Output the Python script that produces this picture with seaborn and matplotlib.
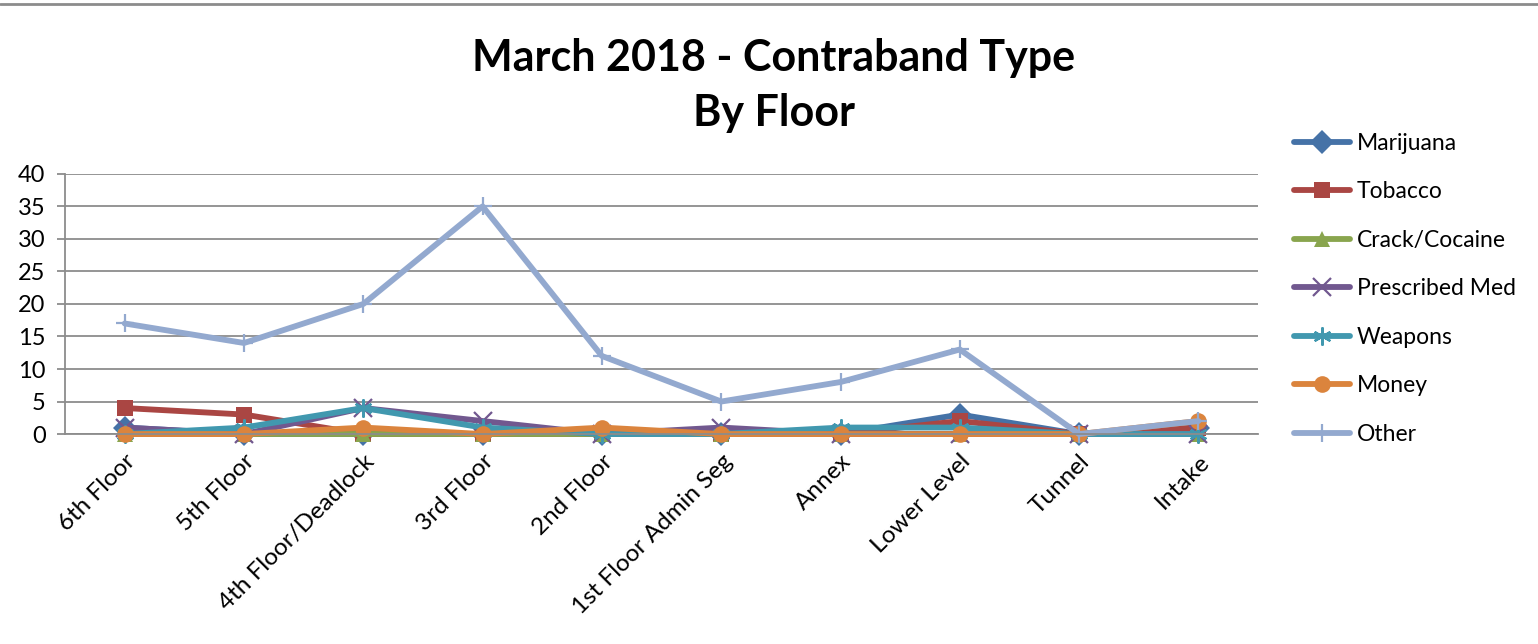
import matplotlib
matplotlib.use("Agg")
import matplotlib.pyplot as plt
import seaborn as sns
import pandas as pd

floors = ["6th Floor", "5th Floor", "4th Floor/Deadlock", "3rd Floor", "2nd Floor",
          "1st Floor Admin Seg", "Annex", "Lower Level", "Tunnel", "Intake"]

marijuana = [1, 0, 0, 0, 0, 0, 0, 3, 0, 1]
tobacco = [4, 3, 0, 0, 0, 0, 0, 2, 0, 1]
crack_cocaine = [0, 0, 0, 0, 0, 0, 0, 0, 0, 0]
prescribed_med = [1, 0, 4, 2, 0, 1, 0, 0, 0, 0]
weapons = [0, 1, 4, 1, 0, 0, 1, 1, 0, 0]
money = [0, 0, 1, 0, 1, 0, 0, 0, 0, 2]
other = [17, 14, 20, 35, 12, 5, 8, 13, 0, 2]

series = [
    ("Marijuana", marijuana, "#4572A7", "D"),
    ("Tobacco", tobacco, "#AA4643", "s"),
    ("Crack/Cocaine", crack_cocaine, "#89A54E", "^"),
    ("Prescribed Med", prescribed_med, "#71588F", "x"),
    ("Weapons", weapons, "#4198AF", (6, 2, 0)),
    ("Money", money, "#DB843D", "o"),
    ("Other", other, "#93A9CF", "+"),
]

sns.set_theme(style="white")
plt.rcParams["font.family"] = ["Lato", "DejaVu Sans"]
plt.rcParams["text.color"] = "black"
plt.rcParams["xtick.color"] = "black"
plt.rcParams["ytick.color"] = "black"

fig = plt.figure(figsize=(15.38, 6.44), dpi=100)
ax = fig.add_axes([0.0423, 0.326, 0.7757, 0.404])

for name, vals, color, mk in series:
    df = pd.DataFrame({"floor": floors, "count": vals})
    thin = mk in ("x", "+", (6, 2, 0))
    sns.lineplot(data=df, x="floor", y="count", ax=ax, color=color, linewidth=4.2,
                 marker=mk, markersize=13 if thin else 12,
                 markeredgewidth=1.6 if thin else 0,
                 markeredgecolor=color, markerfacecolor=color,
                 sort=False, label=name, clip_on=False)

ax.set_xlim(-0.5, len(floors) - 0.5)
ax.set_ylim(0, 40)
ax.set_yticks(range(0, 41, 5))
ax.yaxis.grid(True, color="#8c8c8c", linewidth=1.3)
ax.xaxis.grid(False)
ax.set_xlabel("")
ax.set_ylabel("")
for side in ("top", "right"):
    ax.spines[side].set_visible(False)
for side in ("left", "bottom"):
    ax.spines[side].set_color("#8c8c8c")
    ax.spines[side].set_linewidth(1.3)
ax.tick_params(axis="y", which="both", left=True, length=6, width=1.3, color="#8c8c8c",
               labelcolor="black", labelsize=17, pad=8)
ax.tick_params(axis="x", bottom=False, labelcolor="black", labelsize=17.5, pad=6)
ax.set_xticks(range(len(floors)))
ax.set_xticklabels(floors, rotation=45, ha="right", rotation_mode="anchor")

ax.get_legend().remove()
handles, labels = ax.get_legend_handles_labels()
leg = fig.legend(handles, labels, loc="upper left", bbox_to_anchor=(0.828, 0.826),
                 frameon=False, fontsize=16.5, handlelength=2.45, labelspacing=1.2,
                 handletextpad=0.3)
for t in leg.get_texts():
    t.set_color("black")

fig.text(0.503, 0.91, "March 2018 - Contraband Type", ha="center", va="center",
         fontsize=31, fontweight="bold", color="black")
fig.text(0.503, 0.825, "By Floor", ha="center", va="center",
         fontsize=31, fontweight="bold", color="black")

# thin rule along the top edge
fig.add_artist(plt.Line2D([0, 1], [0.994, 0.994], transform=fig.transFigure,
                          color="#8c8c8c", linewidth=2))

fig.savefig("out.png", dpi=100)
